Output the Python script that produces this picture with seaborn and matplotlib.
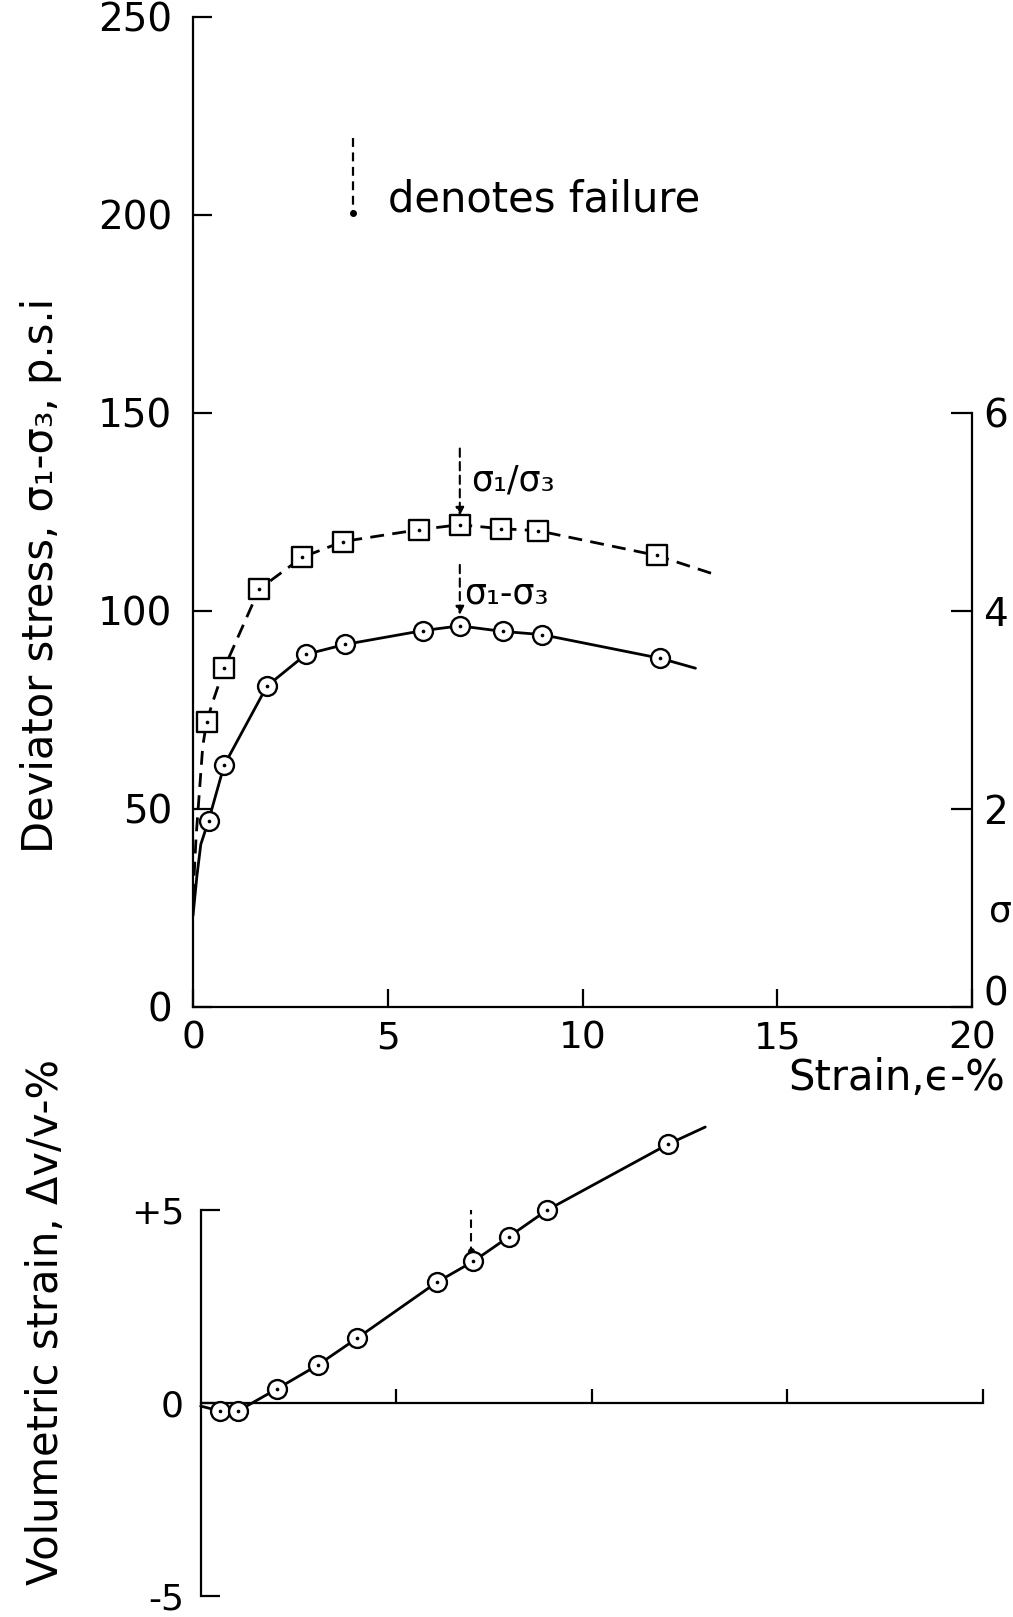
import matplotlib
matplotlib.use("Agg")
import matplotlib.pyplot as plt
import matplotlib.transforms as mtransforms
import seaborn as sns
import numpy as np

# ---------------- data ----------------
# Upper panel: deviator stress (sigma1 - sigma3), p.s.i, vs axial strain %
dev_x = [0.4, 0.8, 1.9, 2.9, 3.9, 5.9, 6.85, 7.95, 8.95, 12.0]
dev_y = [47, 61, 81, 89, 91.5, 95, 96.2, 94.8, 94, 88]
# curve shape beyond the points (start near origin and tail end)
dev_curve_x = [0.0, 0.1, 0.2, 0.4, 0.8, 1.9, 2.9, 3.9, 5.9, 6.85, 7.95, 8.95, 12.0, 12.9]
dev_curve_y = [23, 33, 41, 47, 61, 81, 89, 91.5, 95, 96.2, 94.8, 94, 88, 85.5]

# Upper panel: principal stress ratio sigma1/sigma3 (right axis)
ratio_x = [0.35, 0.8, 1.7, 2.8, 3.85, 5.8, 6.85, 7.9, 8.85, 11.9]
ratio_y = [2.88, 3.42, 4.22, 4.54, 4.70, 4.82, 4.87, 4.83, 4.81, 4.56]
ratio_curve_x = [0.0, 0.08, 0.25, 0.35, 0.5, 0.8, 1.7, 2.8, 3.85, 5.8, 6.85, 7.9, 8.85, 11.9, 13.3]
ratio_curve_y = [1.1, 1.72, 2.63, 2.88, 3.07, 3.42, 4.22, 4.54, 4.70, 4.82, 4.87, 4.83, 4.81, 4.56, 4.38]

# Lower panel: volumetric strain dV/V %, vs axial strain %
vol_x = [0.5, 0.95, 1.94, 2.99, 4.0, 6.04, 6.97, 7.87, 8.86, 11.94]
vol_y = [-0.21, -0.21, 0.36, 0.98, 1.68, 3.13, 3.67, 4.30, 5.0, 6.7]
vol_curve_x = [0.0, 0.5, 0.95, 1.94, 2.99, 4.0, 6.04, 6.97, 7.87, 8.86, 11.94, 12.9]
vol_curve_y = [-0.08, -0.21, -0.21, 0.36, 0.98, 1.68, 3.13, 3.67, 4.30, 5.0, 6.7, 7.15]

# failure strain markers
fail_x = 6.85
fail_top_ratio = [141, 124]   # left-axis units, dashed arrow to sigma1/sigma3 peak
fail_top_dev = [111.6, 99]    # dashed arrow to deviator peak
fail_vol = [5.1, 3.95]        # dashed marker in lower panel
legend_fail_x = 4.1
legend_fail_y = [219.5, 200.5]

strain_ticks = [0, 5, 10, 15, 20]
dev_ticks = [0, 50, 100, 150, 200, 250]
ratio_ticks = [0, 2, 4, 6]
vol_ticks = [-5, 0, 5]
vol_tick_labels = ["-5", "0", "+5"]

# ---------------- style ----------------
sns.set_theme(style="white")
plt.rcParams["font.family"] = ["DejaVu Sans"]
plt.rcParams["axes.linewidth"] = 1.6
plt.rcParams["axes.edgecolor"] = "black"

FS = 30
TFS = 27
W, H = 1013, 1617
fig = plt.figure(figsize=(W / 100, H / 100), dpi=100)
fig.patch.set_facecolor("white")

def fx(px):
    return px / W

def fy(py):
    return 1 - py / H

# ---------------- upper panel ----------------
ax = fig.add_axes([fx(193), fy(1006.7), fx(972) - fx(193), fy(17) - fy(1006.7)])
ax.set_facecolor("none")
ax.set_xlim(0, 20)
ax.set_ylim(0, 250)
for s in ["top", "right"]:
    ax.spines[s].set_visible(False)
ax.spines["left"].set_bounds(0, 250)
ax.spines["bottom"].set_bounds(0, 20)
ax.set_xticks(strain_ticks)
ax.set_yticks(dev_ticks)
ax.tick_params(axis="y", direction="in", length=14, width=1.6, labelsize=TFS + 1, pad=15,
               colors="black", left=True)
ax.tick_params(axis="x", direction="in", length=13, width=1.6, labelsize=TFS, pad=10,
               colors="black", bottom=True)
ax.grid(False)

# right axis: sigma1/sigma3 (same scale: 1 unit = 25 p.s.i)
ax2 = ax.twinx()
ax2.set_ylim(0, 10)
for s in ["top", "left", "bottom"]:
    ax2.spines[s].set_visible(False)
ax2.spines["right"].set_bounds(0, 6)
ax2.set_yticks(ratio_ticks)
ax2.tick_params(axis="y", direction="in", length=15, width=1.6, labelsize=TFS + 1, pad=8,
                colors="black", right=True)
ax2.grid(False)
# the right-hand "0" sits a little above the axis line in the original
zero_lab = ax2.yaxis.get_major_ticks()[0].label2
zero_lab.set_transform(zero_lab.get_transform() +
                       mtransforms.ScaledTranslation(0, 12 / 72, fig.dpi_scale_trans))

# deviator stress curve and points
sns.lineplot(x=dev_curve_x, y=dev_curve_y, ax=ax, color="black", lw=2.0, sort=False,
             zorder=2)
sns.scatterplot(x=dev_x, y=dev_y, ax=ax, marker="o", s=185, facecolor="white",
                edgecolor="black", linewidth=1.7, zorder=4, clip_on=False)
sns.scatterplot(x=dev_x, y=dev_y, ax=ax, marker="o", s=7, color="black",
                linewidth=0, zorder=5, clip_on=False)

# stress ratio curve and points
sns.lineplot(x=ratio_curve_x, y=ratio_curve_y, ax=ax2, color="black", lw=2.0,
             linestyle=(0, (5, 3)), sort=False, zorder=2)
sns.scatterplot(x=ratio_x, y=ratio_y, ax=ax2, marker="s", s=190, facecolor="white",
                edgecolor="black", linewidth=1.7, zorder=4, clip_on=False)
sns.scatterplot(x=ratio_x, y=ratio_y, ax=ax2, marker="o", s=7, color="black",
                linewidth=0, zorder=5, clip_on=False)

# failure markers (dashed arrows)
for ys in (fail_top_ratio, fail_top_dev):
    ax.annotate("", xy=(fail_x, ys[1]), xytext=(fail_x, ys[0]),
                arrowprops=dict(arrowstyle="-|>", color="black", lw=1.5,
                                linestyle=(0, (4, 2.5)), mutation_scale=12,
                                shrinkA=0, shrinkB=0), zorder=6)

ax.text(7.15, 133, "σ₁/σ₃", fontsize=25, va="center", ha="left", color="black")
ax.text(6.95, 104.5, "σ₁-σ₃", fontsize=25, va="center", ha="left", color="black")

# legend: dashed marker denotes failure
ax.plot([legend_fail_x, legend_fail_x], legend_fail_y, color="black", lw=1.6,
        linestyle=(0, (4, 2.5)))
ax.plot([legend_fail_x], [legend_fail_y[1]], marker="o", ms=4, color="black")
ax.text(5.0, 204, "denotes failure", fontsize=FS, va="center", ha="left",
        color="black")

# ---------------- lower panel ----------------
axb = fig.add_axes([fx(200.7), fy(1596), fx(983) - fx(200.7), fy(1210) - fy(1596)])
axb.set_facecolor("none")
axb.set_xlim(0, 20)
axb.set_ylim(-5, 5)
for s in ["top", "right"]:
    axb.spines[s].set_visible(False)
axb.spines["left"].set_bounds(-5, 5)
axb.spines["bottom"].set_position(("data", 0))
axb.spines["bottom"].set_bounds(0, 20)
axb.set_xticks([5, 10, 15, 20])
axb.set_xticklabels([])
axb.set_yticks(vol_ticks)
axb.set_yticklabels(vol_tick_labels)
axb.tick_params(axis="x", direction="in", length=10, width=1.6, bottom=True,
                colors="black")
axb.tick_params(axis="y", direction="in", length=14, width=1.6, labelsize=TFS - 1,
                pad=12, left=True, colors="black")
axb.grid(False)

sns.lineplot(x=vol_curve_x, y=vol_curve_y, ax=axb, color="black", lw=2.0, sort=False,
             zorder=2, clip_on=False)
sns.scatterplot(x=vol_x, y=vol_y, ax=axb, marker="o", s=185, facecolor="white",
                edgecolor="black", linewidth=1.7, zorder=4, clip_on=False)
sns.scatterplot(x=vol_x, y=vol_y, ax=axb, marker="o", s=7, color="black",
                linewidth=0, zorder=5, clip_on=False)
axb.plot([fail_x + 0.05, fail_x + 0.05], fail_vol, color="black", lw=1.5,
         linestyle=(0, (4, 2.5)), zorder=3)
axb.plot([fail_x + 0.05], [fail_vol[1]], marker="o", ms=4, color="black", zorder=3)

# ---------------- labels ----------------
fig.text(fx(41), fy(575), "Deviator stress, σ₁-σ₃, p.s.i", rotation=90,
         ha="center", va="center", fontsize=FS, color="black")
fig.text(fx(46), fy(1322), "Volumetric strain, Δv/v-%", rotation=90,
         ha="center", va="center", fontsize=FS, color="black")
fig.text(fx(1005), fy(1078), "Strain,ϵ-%", ha="right", va="center", fontsize=FS,
         color="black")
fig.text(fx(989), fy(912), "σ", ha="left", va="center", fontsize=26,
         color="black")

fig.savefig("out.png", dpi=100, facecolor="white")
